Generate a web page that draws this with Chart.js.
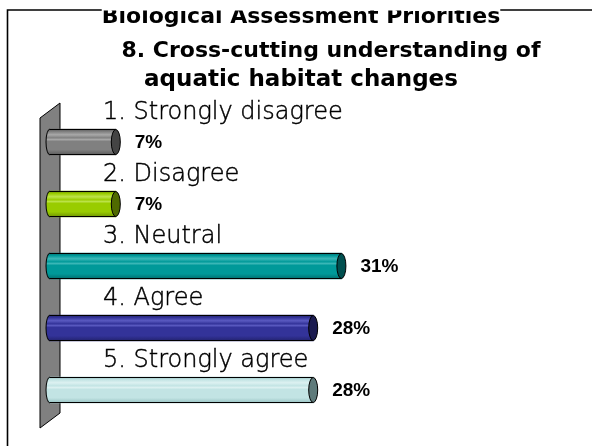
<!DOCTYPE html>
<html>
<head>
<meta charset="utf-8">
<script src="https://cdn.jsdelivr.net/npm/chart.js@4/dist/chart.umd.min.js"></script>
<style>
  html, body { margin: 0; padding: 0; background: #ffffff; }
  #wrap { width: 592px; height: 446px; }
</style>
</head>
<body>
<div id="wrap"><canvas id="c" width="592" height="446"></canvas></div>
<script>
// ---- data ----
const titleLines = ["Biological Assessment Priorities", "8. Cross-cutting understanding of", "aquatic habitat changes"];
const categories = ["1. Strongly disagree", "2. Disagree", "3. Neutral", "4. Agree", "5. Strongly agree"];
const percentages = [7, 7, 31, 28, 28];
const valueLabels = ["7%", "7%", "31%", "28%", "28%"];

// ---- styles ----
const barBase  = ["#808080", "#99cc00", "#009999", "#333399", "#c2e4e4"];
const barLight = ["#a8a8a8", "#bde34a", "#3cb8b8", "#5a5ac0", "#dcf1f1"];
const barDark  = ["#5a5a5a", "#6e9300", "#006e6e", "#22226e", "#98c2c2"];
const capColor = ["#444444", "#4f6a00", "#004f4f", "#1b1b50", "#5e7a7a"];

const BAR_H = 26;

function bodyGradient(ctx, y, i) {
  const g = ctx.createLinearGradient(0, y - BAR_H / 2, 0, y + BAR_H / 2);
  g.addColorStop(0.00, barDark[i]);
  g.addColorStop(0.10, barBase[i]);
  g.addColorStop(0.22, barLight[i]);
  g.addColorStop(0.34, barBase[i]);
  g.addColorStop(0.40, barLight[i]);
  g.addColorStop(0.48, barBase[i]);
  g.addColorStop(0.80, barBase[i]);
  g.addColorStop(1.00, barDark[i]);
  return g;
}

const deco = {
  id: 'deco',
  beforeDraw(chart) {
    const ctx = chart.ctx;
    const ca = chart.chartArea;
    ctx.save();
    ctx.fillStyle = '#ffffff';
    ctx.fillRect(0, 0, chart.width, chart.height);
    // frame (left and top edge)
    ctx.strokeStyle = '#000000';
    ctx.lineWidth = 1.6;
    ctx.beginPath();
    ctx.moveTo(7.5, chart.height);
    ctx.lineTo(7.5, 10);
    ctx.lineTo(chart.width, 10);
    ctx.stroke();

    // title
    ctx.fillStyle = '#000000';
    ctx.textAlign = 'center';
    ctx.textBaseline = 'alphabetic';
    ctx.font = 'bold 22px "DejaVu Sans", Verdana, sans-serif';
    const t1w = ctx.measureText(titleLines[0]).width;
    const t1x = 301;
    ctx.fillStyle = '#ffffff';
    ctx.fillRect(t1x - t1w / 2, 7, t1w, 6);
    ctx.fillStyle = '#000000';
    ctx.save();
    ctx.beginPath();
    ctx.rect(0, 10.5, chart.width, 30);
    ctx.clip();
    ctx.fillText(titleLines[0], t1x, 23);
    ctx.restore();
    ctx.fillText(titleLines[1], 331, 57);
    ctx.font = 'bold 23px "DejaVu Sans", Verdana, sans-serif';
    ctx.fillText(titleLines[2], 301, 86);

    // 3D back wall
    const L = ca.left;
    ctx.fillStyle = '#808080';
    ctx.strokeStyle = '#000000';
    ctx.lineWidth = 1;
    ctx.beginPath();
    ctx.moveTo(L - 10, ca.top + 7);
    ctx.lineTo(L + 10, ca.top - 8);
    ctx.lineTo(L + 10, ca.bottom - 8);
    ctx.lineTo(L - 10, ca.bottom + 7);
    ctx.closePath();
    ctx.fill();
    ctx.stroke();
    ctx.restore();
  },
  afterDatasetsDraw(chart) {
    const ctx = chart.ctx;
    const meta = chart.getDatasetMeta(0);
    ctx.save();
    meta.data.forEach((el, i) => {
      const x = el.x, y = el.y, b = el.base, h = el.height;
      const top = y - h / 2, bot = y + h / 2;
      // left rounded end
      ctx.fillStyle = bodyGradient(ctx, y, i);
      ctx.beginPath();
      ctx.ellipse(b, y, 4, h / 2, 0, Math.PI / 2, Math.PI * 1.5);
      ctx.closePath();
      ctx.fill();
      ctx.strokeStyle = '#000000';
      ctx.lineWidth = 1;
      ctx.beginPath();
      ctx.ellipse(b, y, 4, h / 2, 0, Math.PI / 2, Math.PI * 1.5);
      ctx.stroke();
      // body outline
      ctx.beginPath();
      ctx.moveTo(b, top + 0.5); ctx.lineTo(x, top + 0.5);
      ctx.moveTo(b, bot - 0.5); ctx.lineTo(x, bot - 0.5);
      ctx.stroke();
      // right face
      ctx.fillStyle = capColor[i];
      ctx.beginPath();
      ctx.ellipse(x, y, 4.5, h / 2 - 0.5, 0, 0, Math.PI * 2);
      ctx.fill();
      ctx.stroke();

      // category label above bar
      ctx.fillStyle = '#000000';
      ctx.strokeStyle = '#000000';
      ctx.lineWidth = 0.45;
      ctx.textAlign = 'left';
      ctx.textBaseline = 'alphabetic';
      ctx.font = '200 24px "DejaVu Sans", sans-serif';
      ctx.fillText(categories[i], 103, y - 23);
      ctx.strokeText(categories[i], 103, y - 23);

      // value label
      ctx.fillStyle = '#000000';
      ctx.textBaseline = 'middle';
      ctx.font = 'bold 19px "Liberation Sans", Arial, sans-serif';
      ctx.fillText(valueLabels[i], x + 19, y + 1);
    });
    ctx.restore();
  }
};

new Chart(document.getElementById('c'), {
  type: 'bar',
  data: {
    labels: categories,
    datasets: [{
      data: percentages,
      backgroundColor: (c) => {
        const chart = c.chart;
        if (!chart.chartArea || c.dataIndex === undefined) return barBase[0];
        const y = chart.scales.y.getPixelForValue(c.dataIndex);
        return bodyGradient(chart.ctx, y, c.dataIndex);
      },
      borderWidth: 0,
      barThickness: BAR_H
    }]
  },
  options: {
    indexAxis: 'y',
    responsive: false,
    animation: false,
    devicePixelRatio: 1,
    layout: { padding: { left: 50, right: 72, top: 111, bottom: 25 } },
    scales: {
      x: { display: false, min: 0, max: 50 },
      y: { display: false, offset: true }
    },
    plugins: { legend: { display: false }, tooltip: { enabled: false }, title: { display: false } }
  },
  plugins: [deco]
});
</script>
</body>
</html>
